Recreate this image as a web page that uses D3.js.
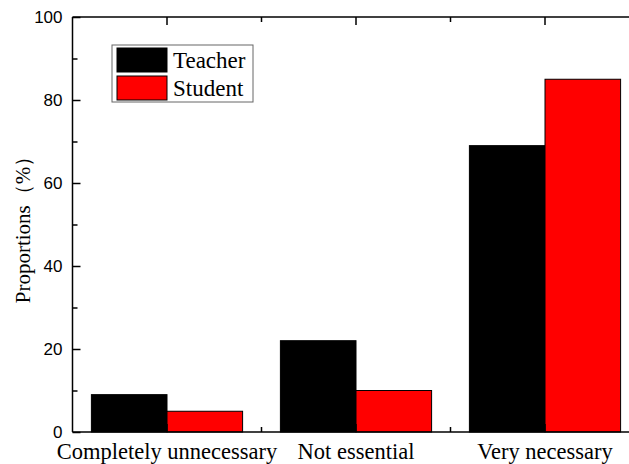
<!DOCTYPE html>
<html><head><meta charset="utf-8">
<script src="https://cdn.jsdelivr.net/npm/d3@7"></script>
<style>body{margin:0;background:#fff;overflow:hidden}</style>
</head><body>
<svg id="c" width="629" height="464"></svg>
<script>
const categories = ["Completely unnecessary", "Not essential", "Very necessary"];
const seriesNames = ["Teacher", "Student"];
const teacher = [9, 22, 69];
const student = [5, 10, 85];
const yTicks = [0, 20, 40, 60, 80, 100];
const colors = ["#000000", "#ff0000"];

const svg = d3.select("#c");
const L = 72.5, T = 17, B = 432;
const x = d3.scaleLinear().domain([0.5, 3.5]).range([L, L + 567]);
const y = d3.scaleLinear().domain([0, 100]).range([B, T]);
const bw = 0.4;

const series = [teacher, student];
series.forEach((vals, s) => {
  svg.append("g").selectAll("rect").data(vals).join("rect")
    .attr("x", (d, i) => x(i + 1 - bw + s * bw))
    .attr("width", x(1 + bw) - x(1))
    .attr("y", d => y(d))
    .attr("height", d => y(0) - y(d))
    .attr("fill", colors[s])
    .attr("stroke", "#000").attr("stroke-width", 1);
});

// frame lines
const R = x(3.5);
svg.append("line").attr("x1", L).attr("x2", L).attr("y1", T).attr("y2", B).attr("stroke", "#000").attr("stroke-width", 1.5);
svg.append("line").attr("x1", L).attr("x2", R).attr("y1", B).attr("y2", B).attr("stroke", "#000").attr("stroke-width", 1.5);
svg.append("line").attr("x1", L).attr("x2", R).attr("y1", T).attr("y2", T).attr("stroke", "#000").attr("stroke-width", 1.5);

// y axis ticks (inward)
const yAxis = d3.axisLeft(y).tickValues(yTicks).tickSize(-8).tickPadding(10);
const gy = svg.append("g").attr("transform", `translate(${L},0)`).call(yAxis);
gy.select(".domain").remove();
gy.selectAll(".tick line").attr("stroke-width", 1.5);
gy.selectAll("text").attr("font-family", "Liberation Sans, Arial, sans-serif").attr("font-size", 17).attr("fill", "#000");
const yMinor = d3.axisLeft(y).tickValues([10, 30, 50, 70, 90]).tickSize(-5).tickFormat("");
const gym = svg.append("g").attr("transform", `translate(${L},0)`).call(yMinor);
gym.select(".domain").remove();
gym.selectAll(".tick line").attr("stroke-width", 1.5);

// x axis ticks (inward) bottom and top
const xMajor = [1, 2, 3], xMinor = [1.5, 2.5];
[[B, -1], [T, 1]].forEach(([yy, dir]) => {
  svg.append("g").selectAll("line").data(xMajor).join("line")
    .attr("x1", d => x(d)).attr("x2", d => x(d))
    .attr("y1", yy).attr("y2", yy + dir * 8).attr("stroke", "#000").attr("stroke-width", 1.5);
  svg.append("g").selectAll("line").data(xMinor).join("line")
    .attr("x1", d => x(d)).attr("x2", d => x(d))
    .attr("y1", yy).attr("y2", yy + dir * 5).attr("stroke", "#000").attr("stroke-width", 1.5);
});

// category labels
svg.append("g").selectAll("text").data(categories).join("text")
  .attr("x", (d, i) => x(i + 1)).attr("y", 459)
  .attr("text-anchor", "middle")
  .attr("font-family", "Liberation Serif, Times New Roman, serif").attr("font-size", 22.5)
  .text(d => d);

// y title
svg.append("text")
  .attr("transform", `translate(30,${(T + B) / 2}) rotate(-90)`)
  .attr("text-anchor", "middle")
  .attr("font-family", "Liberation Serif, Times New Roman, serif").attr("font-size", 21)
  .text("Proportions（%）");

// legend
const lg = svg.append("g");
lg.append("rect").attr("x", 112).attr("y", 45).attr("width", 141).attr("height", 57)
  .attr("fill", "#fff").attr("stroke", "#666").attr("stroke-width", 1);
seriesNames.forEach((n, i) => {
  lg.append("rect").attr("x", 117).attr("y", 48 + i * 28).attr("width", 50).attr("height", 24)
    .attr("fill", colors[i]).attr("stroke", "#000").attr("stroke-width", 1);
  lg.append("text").attr("x", 173).attr("y", 68 + i * 28)
    .attr("font-family", "Liberation Serif, Times New Roman, serif").attr("font-size", 23)
    .text(n);
});
</script>
</body></html>
